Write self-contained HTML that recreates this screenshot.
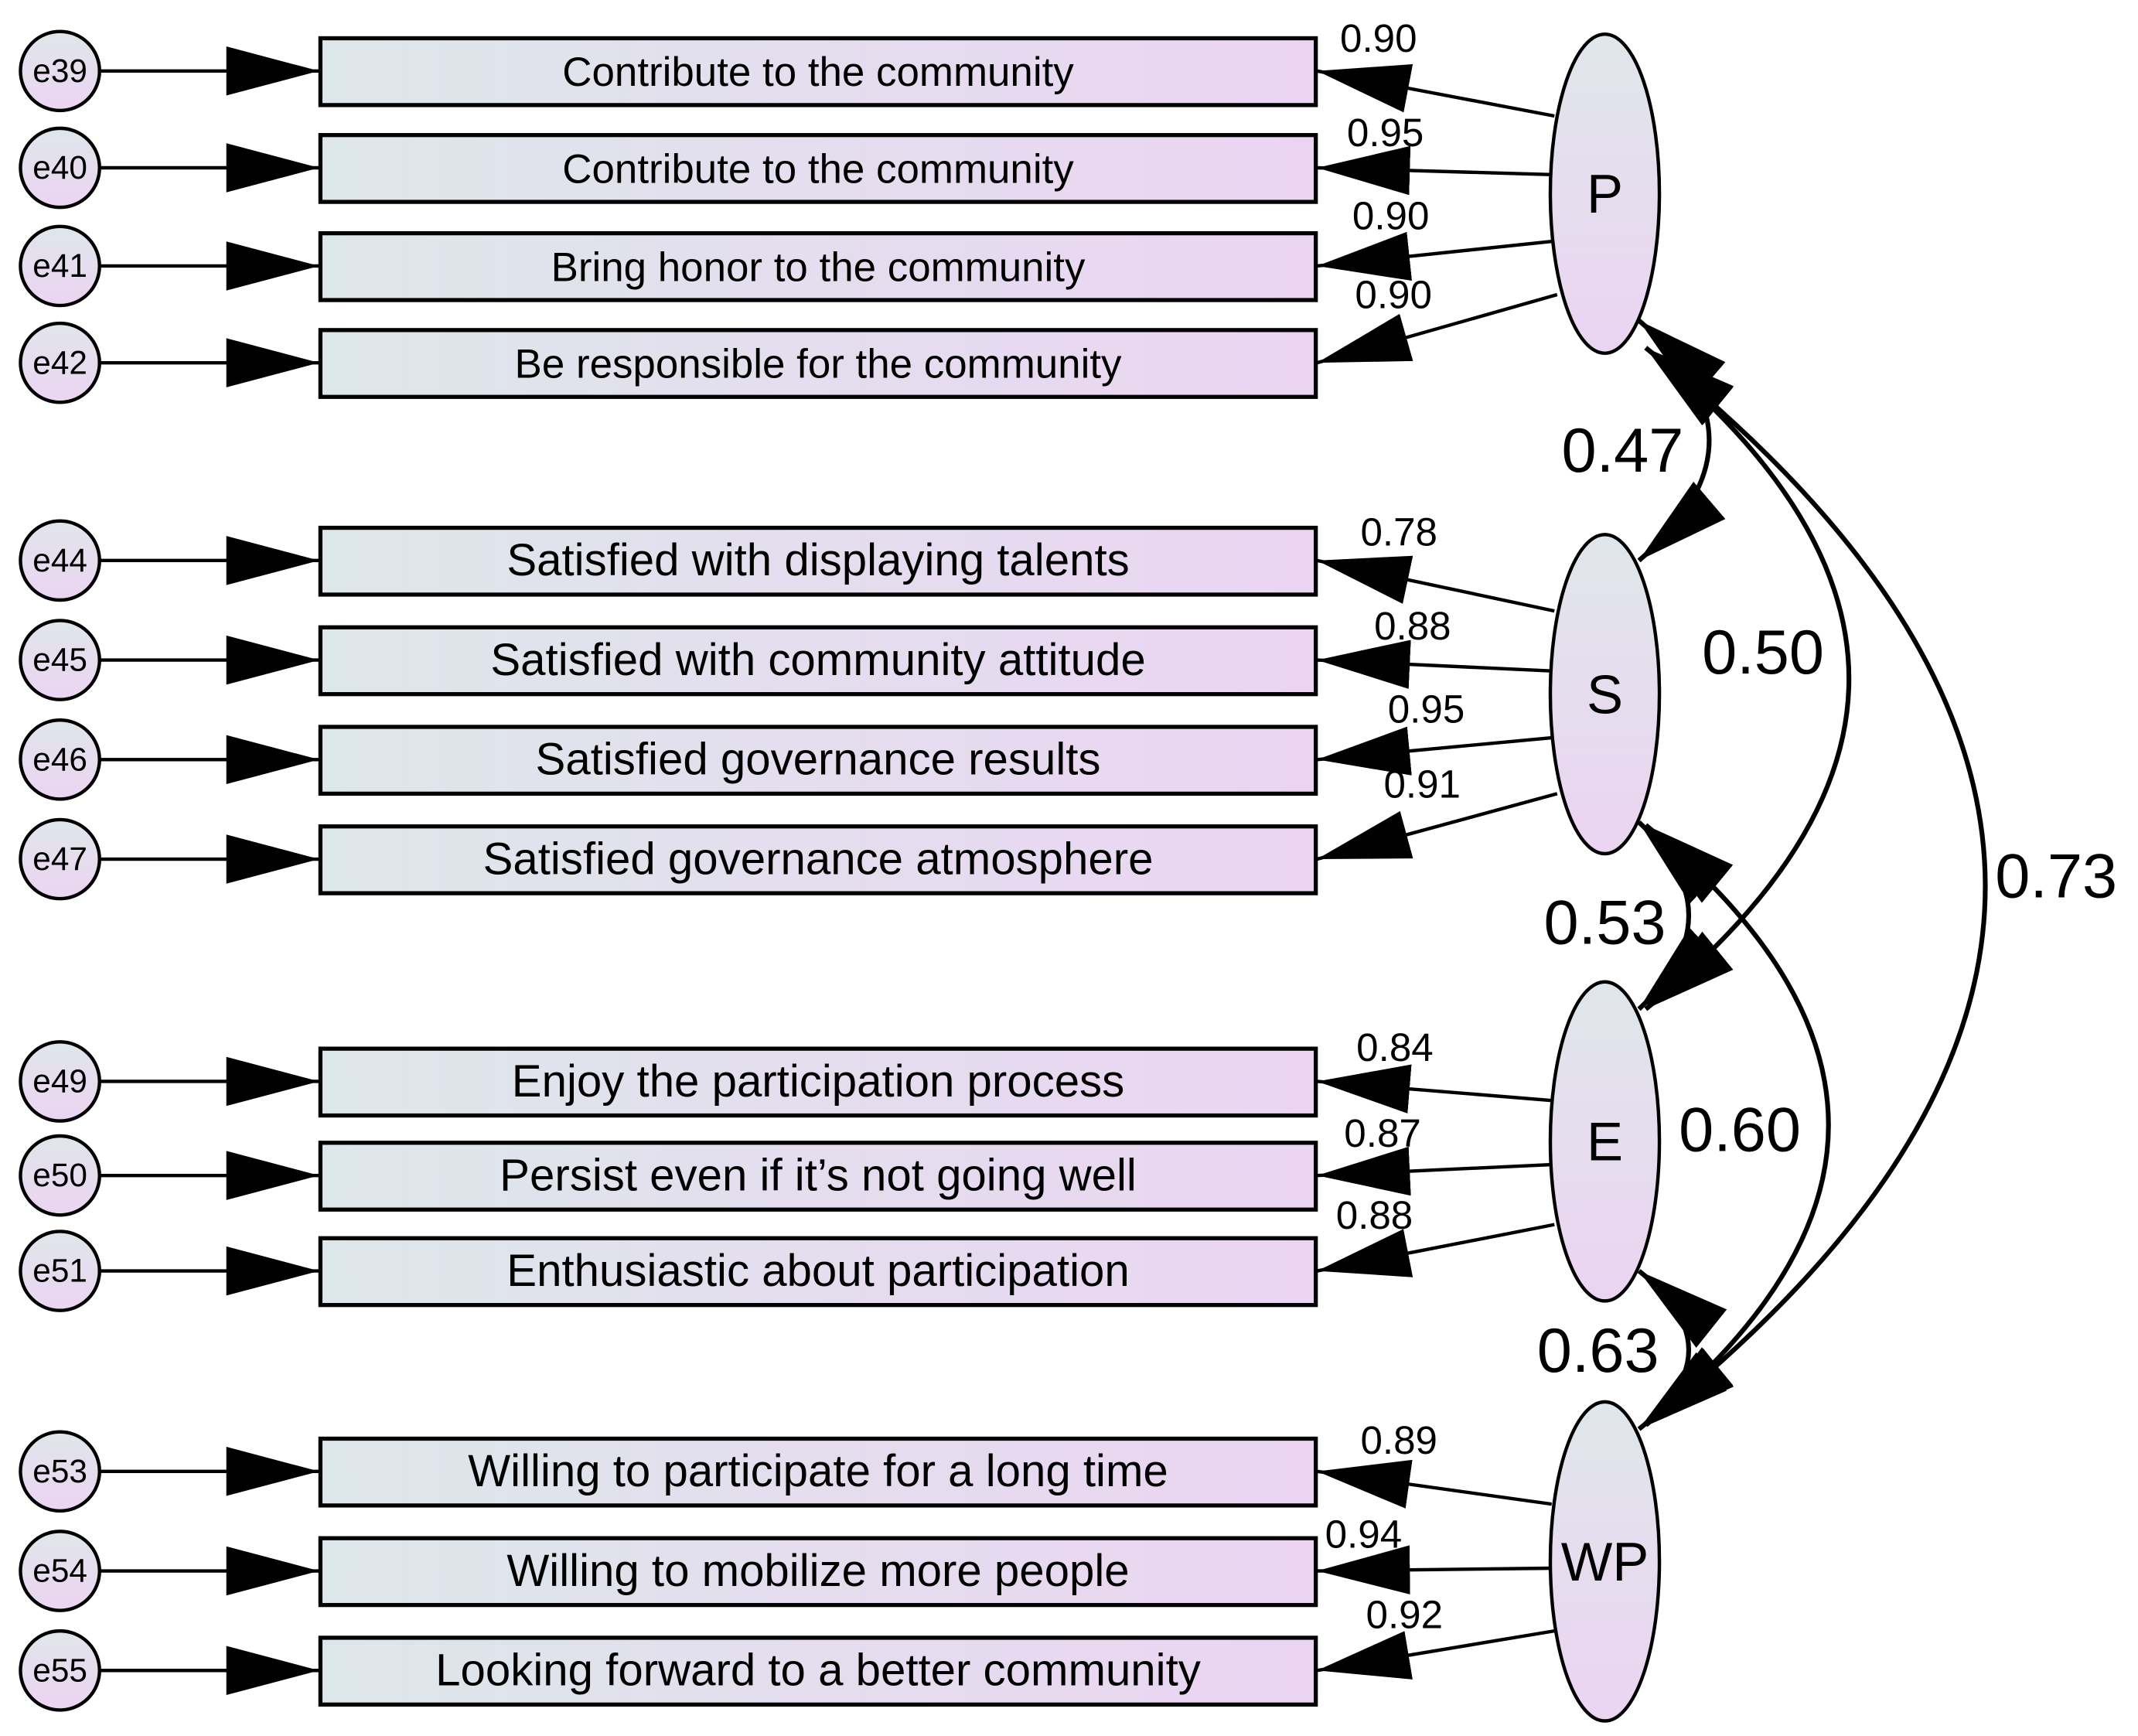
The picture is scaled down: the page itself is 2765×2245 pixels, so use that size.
<!DOCTYPE html>
<html><head><meta charset="utf-8"><style>
html,body{margin:0;padding:0;background:#fff;}
svg{display:block;}
text{font-family:"Liberation Sans",sans-serif;fill:#000;}
</style></head><body>
<svg width="2765" height="2245" viewBox="0 0 1568 1273" xmlns="http://www.w3.org/2000/svg">
<defs>
<linearGradient id="bx" x1="0" x2="1" y1="0" y2="0"><stop offset="0" stop-color="#dde7ea"/><stop offset="1" stop-color="#ebd4f2"/></linearGradient>
<linearGradient id="el" x1="0" x2="0" y1="0" y2="1"><stop offset="0" stop-color="#e0e6ea"/><stop offset="1" stop-color="#ebd4f2"/></linearGradient>
<marker id="ah" markerUnits="userSpaceOnUse" markerWidth="70" markerHeight="40" refX="68" refY="20" orient="auto"><path d="M0,2 L68,20 L0,38 Z" fill="#000"/></marker>
<marker id="ahs" markerUnits="userSpaceOnUse" markerWidth="70" markerHeight="40" refX="68" refY="20" orient="auto-start-reverse"><path d="M0,2 L68,20 L0,38 Z" fill="#000"/></marker>
</defs>
<g stroke="#000" stroke-width="2.5">
<g fill="url(#el)">
<circle cx="44" cy="52" r="29"/><circle cx="44" cy="123" r="29"/><circle cx="44" cy="195" r="29"/><circle cx="44" cy="266" r="29"/>
<circle cx="44" cy="411" r="29"/><circle cx="44" cy="484" r="29"/><circle cx="44" cy="557" r="29"/><circle cx="44" cy="630" r="29"/>
<circle cx="44" cy="793" r="29"/><circle cx="44" cy="862" r="29"/><circle cx="44" cy="932" r="29"/>
<circle cx="44" cy="1079" r="29"/><circle cx="44" cy="1152" r="29"/><circle cx="44" cy="1225" r="29"/>
</g>
<g marker-end="url(#ah)">
<line x1="74" y1="52" x2="234" y2="52"/><line x1="74" y1="123" x2="234" y2="123"/><line x1="74" y1="195" x2="234" y2="195"/><line x1="74" y1="266" x2="234" y2="266"/>
<line x1="74" y1="411" x2="234" y2="411"/><line x1="74" y1="484" x2="234" y2="484"/><line x1="74" y1="557" x2="234" y2="557"/><line x1="74" y1="630" x2="234" y2="630"/>
<line x1="74" y1="793" x2="234" y2="793"/><line x1="74" y1="862" x2="234" y2="862"/><line x1="74" y1="932" x2="234" y2="932"/>
<line x1="74" y1="1079" x2="234" y2="1079"/><line x1="74" y1="1152" x2="234" y2="1152"/><line x1="74" y1="1225" x2="234" y2="1225"/>
</g>
<g fill="url(#bx)" stroke-width="3">
<rect x="235" y="28" width="730" height="49"/><rect x="235" y="99" width="730" height="49"/><rect x="235" y="171" width="730" height="49"/><rect x="235" y="242" width="730" height="49"/>
<rect x="235" y="387" width="730" height="49"/><rect x="235" y="460" width="730" height="49"/><rect x="235" y="533" width="730" height="49"/><rect x="235" y="606" width="730" height="49"/>
<rect x="235" y="769" width="730" height="49"/><rect x="235" y="838" width="730" height="49"/><rect x="235" y="908" width="730" height="49"/>
<rect x="235" y="1055" width="730" height="49"/><rect x="235" y="1128" width="730" height="49"/><rect x="235" y="1201" width="730" height="49"/>
</g>
<g marker-end="url(#ah)">
<line x1="1140" y1="85" x2="966" y2="52"/><line x1="1138" y1="128" x2="966" y2="123"/><line x1="1138" y1="177" x2="966" y2="195"/><line x1="1142" y1="216" x2="966" y2="266"/>
<line x1="1140" y1="448" x2="966" y2="411"/><line x1="1138" y1="492" x2="966" y2="484"/><line x1="1138" y1="541" x2="966" y2="557"/><line x1="1142" y1="582" x2="966" y2="630"/>
<line x1="1138" y1="807" x2="966" y2="793"/><line x1="1138" y1="854" x2="966" y2="862"/><line x1="1140" y1="898" x2="966" y2="932"/>
<line x1="1138" y1="1103" x2="966" y2="1079"/><line x1="1138" y1="1150" x2="966" y2="1152"/><line x1="1140" y1="1196" x2="966" y2="1225"/>
</g>
<g fill="url(#el)">
<ellipse cx="1177" cy="142" rx="40" ry="117"/><ellipse cx="1177" cy="509" rx="40" ry="117"/><ellipse cx="1177" cy="837" rx="40" ry="117"/><ellipse cx="1177" cy="1145" rx="40" ry="117"/>
</g>
<g fill="none" stroke-width="3.5" marker-start="url(#ahs)" marker-end="url(#ah)">
<path d="M1202,235 Q1305,323 1202,411"/>
<path d="M1207,255 Q1505,498 1207,740"/>
<path d="M1207,255 Q1705,650 1207,1045"/>
<path d="M1202,603 Q1275,671 1202,740"/>
<path d="M1207,605 Q1475,825 1207,1045"/>
<path d="M1202,932 Q1275,990 1202,1048"/>
</g>
</g>
<g font-size="24" text-anchor="middle">
<text x="44" y="60">e39</text><text x="44" y="131">e40</text><text x="44" y="203">e41</text><text x="44" y="274">e42</text>
<text x="44" y="419">e44</text><text x="44" y="492">e45</text><text x="44" y="565">e46</text><text x="44" y="638">e47</text>
<text x="44" y="801">e49</text><text x="44" y="870">e50</text><text x="44" y="940">e51</text>
<text x="44" y="1087">e53</text><text x="44" y="1160">e54</text><text x="44" y="1233">e55</text>
</g>
<g font-size="33" text-anchor="middle">
<text x="600" y="63" font-size="30">Contribute to the community</text><text x="600" y="134" font-size="30">Contribute to the community</text><text x="600" y="206" font-size="30">Bring honor to the community</text><text x="600" y="277" font-size="30">Be responsible for the community</text>
<text x="600" y="422">Satisfied with displaying talents</text><text x="600" y="495">Satisfied with community attitude</text><text x="600" y="568">Satisfied governance results</text><text x="600" y="641">Satisfied governance atmosphere</text>
<text x="600" y="804">Enjoy the participation process</text><text x="600" y="873">Persist even if it’s not going well</text><text x="600" y="943">Enthusiastic about participation</text>
<text x="600" y="1090">Willing to participate for a long time</text><text x="600" y="1163">Willing to mobilize more people</text><text x="600" y="1236">Looking forward to a better community</text>
</g>
<g font-size="29" text-anchor="middle">
<text x="1011" y="38">0.90</text><text x="1016" y="107">0.95</text><text x="1020" y="168">0.90</text><text x="1022" y="226">0.90</text>
<text x="1026" y="400">0.78</text><text x="1036" y="469">0.88</text><text x="1046" y="530">0.95</text><text x="1043" y="585">0.91</text>
<text x="1023" y="778">0.84</text><text x="1014" y="841">0.87</text><text x="1008" y="901">0.88</text>
<text x="1026" y="1066">0.89</text><text x="1000" y="1135">0.94</text><text x="1030" y="1194">0.92</text>
</g>
<g font-size="40" text-anchor="middle">
<text x="1177" y="156">P</text><text x="1177" y="523">S</text><text x="1177" y="851">E</text><text x="1177" y="1159">WP</text>
</g>
<g font-size="46" text-anchor="middle">
<text x="1190" y="346">0.47</text><text x="1293" y="494">0.50</text><text x="1508" y="658">0.73</text>
<text x="1177" y="692">0.53</text><text x="1276" y="844">0.60</text><text x="1172" y="1006">0.63</text>
</g>
</svg>
</body></html>
